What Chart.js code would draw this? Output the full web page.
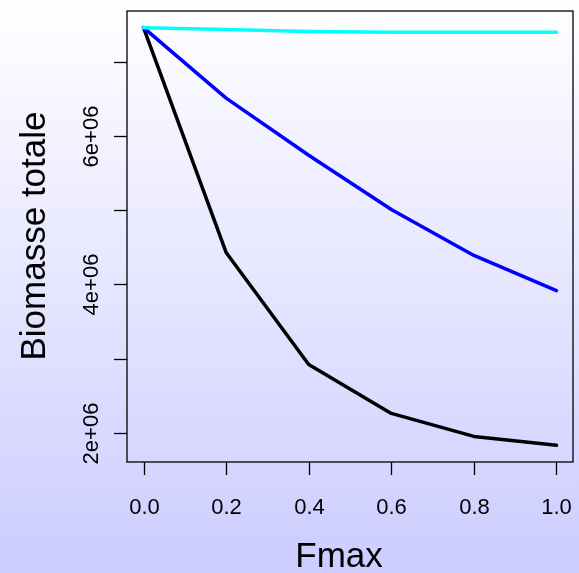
<!DOCTYPE html>
<html>
<head>
<meta charset="utf-8">
<script src="https://cdn.jsdelivr.net/npm/chart.js@4"></script>
<style>
  html, body { margin: 0; padding: 0; }
  #wrap { width: 579px; height: 573px; }
</style>
</head>
<body>
<div id="wrap"><canvas id="chart" width="579" height="573"></canvas></div>
<script>
// valeurs
const fmax = [0, 0.2, 0.4, 0.6, 0.8, 1.0];
const biomasseNoire = [7.46e6, 4.43e6, 2.92e6, 2.26e6, 1.95e6, 1.83e6];
const biomasseBleue = [7.46e6, 6.51e6, 5.74e6, 5.01e6, 4.39e6, 3.915e6];
const biomasseCyan = [7.46e6, 7.435e6, 7.41e6, 7.40e6, 7.40e6, 7.40e6];

const xTicks = [0, 0.2, 0.4, 0.6, 0.8, 1.0];
const xTickLabels = ['0.0', '0.2', '0.4', '0.6', '0.8', '1.0'];
const yTicks = [2e6, 3e6, 4e6, 5e6, 6e6, 7e6];
const yTickLabels = ['2e+06', '', '4e+06', '', '6e+06', ''];

const FONT = '"Liberation Sans", Arial, sans-serif';

function pts(ys) {
    return fmax.map((x, i) => ({ x: x, y: ys[i] }));
}

// fond degrade + cadre, ticks et titres facon R
const rStyle = {
    id: 'rStyle',
    beforeDraw(chart) {
        const c = chart.ctx;
        const g = c.createLinearGradient(0, 0, 0, chart.height);
        g.addColorStop(0, '#ffffff');
        g.addColorStop(1, '#ccccff');
        c.save();
        c.fillStyle = g;
        c.fillRect(0, 0, chart.width, chart.height);
        c.restore();
    },
    afterDraw(chart) {
        const c = chart.ctx;
        const a = chart.chartArea;
        const xs = chart.scales.x;
        const ys = chart.scales.y;
        c.save();
        c.strokeStyle = '#000';
        c.lineWidth = 1.3;
        c.strokeRect(a.left, a.top, a.right - a.left, a.bottom - a.top);

        c.fillStyle = '#000';
        c.font = '22px ' + FONT;
        c.textAlign = 'center';
        c.textBaseline = 'middle';

        // axe x
        xTicks.forEach((v, i) => {
            const px = Math.round(xs.getPixelForValue(v)) + 0.5;
            c.beginPath();
            c.moveTo(px, a.bottom);
            c.lineTo(px, a.bottom + 13);
            c.stroke();
            c.fillText(xTickLabels[i], px, 508);
        });

        // axe y
        yTicks.forEach((v, i) => {
            const py = Math.round(ys.getPixelForValue(v)) + 0.5;
            c.beginPath();
            c.moveTo(a.left, py);
            c.lineTo(a.left - 13, py);
            c.stroke();
            if (yTickLabels[i]) {
                c.save();
                c.translate(92, py);
                c.rotate(-Math.PI / 2);
                c.fillText(yTickLabels[i], 0, 0);
                c.restore();
            }
        });

        c.font = '35px ' + FONT;
        c.fillText('Fmax', 339, 557);
        c.save();
        c.translate(35, 236);
        c.rotate(-Math.PI / 2);
        c.fillText('Biomasse totale', 0, 0);
        c.restore();
        c.restore();
    }
};

const ctx = document.getElementById('chart');
new Chart(ctx, {
    type: 'line',
    data: {
        datasets: [{
            label: 'noir',
            data: pts(biomasseNoire),
            borderColor: '#000000',
            order: 3
        }, {
            label: 'bleu',
            data: pts(biomasseBleue),
            borderColor: '#0000ff',
            order: 2
        }, {
            label: 'cyan',
            data: pts(biomasseCyan),
            borderColor: '#00ffff',
            order: 1
        }]
    },
    options: {
        responsive: false,
        animation: false,
        events: [],
        layout: { padding: { left: 127, right: 6, top: 11, bottom: 111 } },
        elements: {
            line: { borderWidth: 3.5, tension: 0, borderCapStyle: 'round', borderJoinStyle: 'round' },
            point: { radius: 0 }
        },
        plugins: {
            legend: { display: false },
            tooltip: { enabled: false }
        },
        scales: {
            x: { type: 'linear', min: -0.04, max: 1.04, display: false },
            y: { type: 'linear', min: 1.605e6, max: 7.685e6, display: false }
        }
    },
    plugins: [rStyle]
});
</script>
</body>
</html>
